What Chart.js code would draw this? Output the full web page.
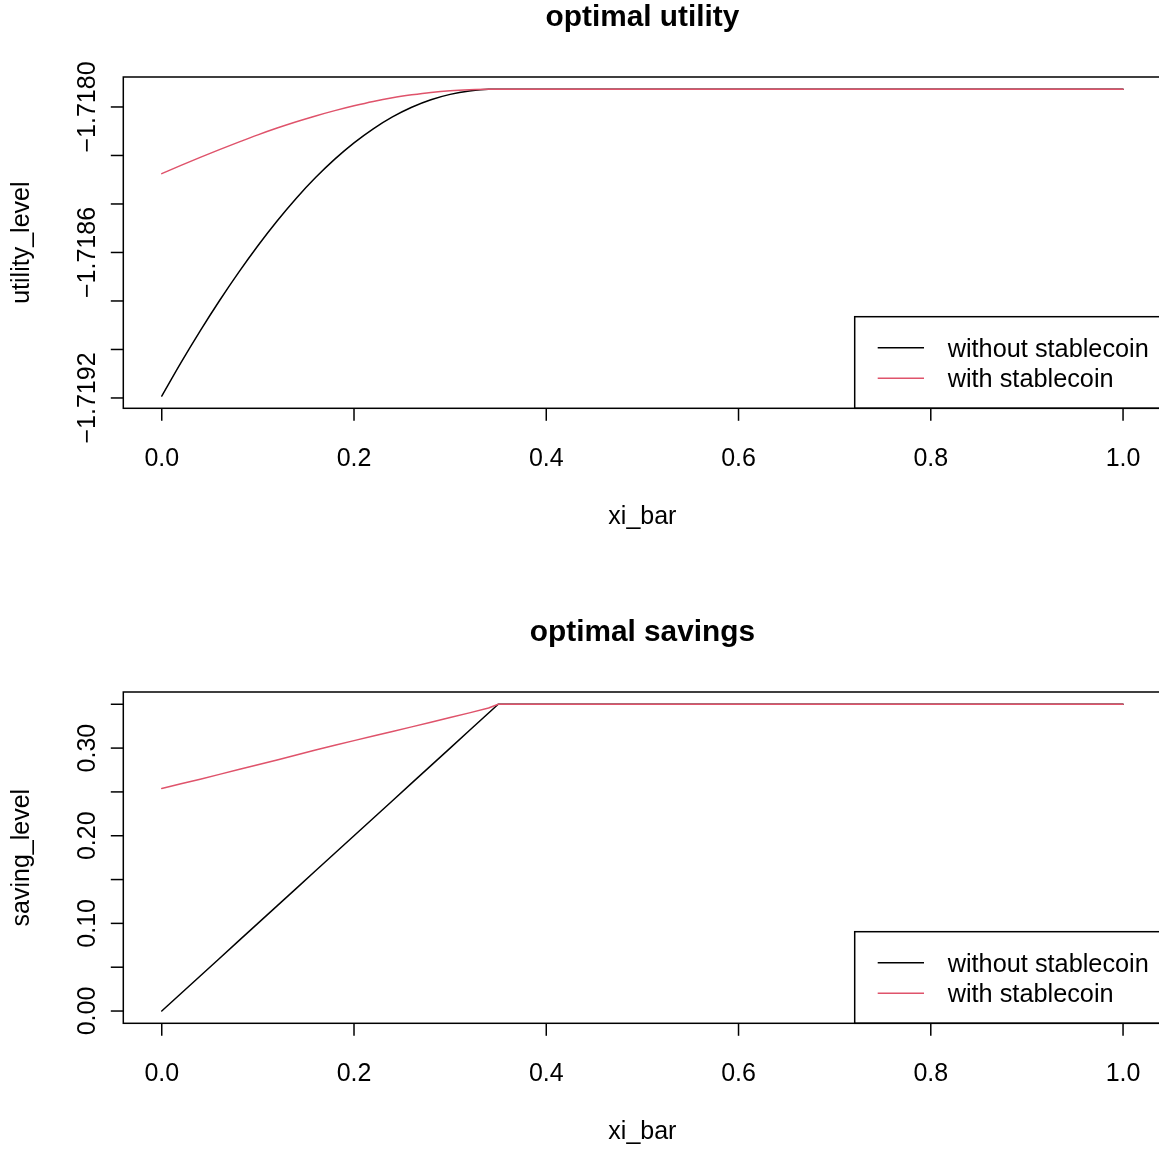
<!DOCTYPE html>
<html>
<head>
<meta charset="utf-8">
<script src="https://cdn.jsdelivr.net/npm/chart.js@4.4.1/dist/chart.umd.min.js"></script>
<style>
  html, body { margin: 0; padding: 0; background: #fff; overflow: hidden; }
  body { width: 1159px; height: 1152px; position: relative; }
  canvas { position: absolute; left: 0; }
  #utilityChart { top: 0; }
  #savingChart { top: 615px; }
</style>
</head>
<body>
<canvas id="utilityChart" width="1162" height="537"></canvas>
<canvas id="savingChart" width="1162" height="537"></canvas>
<script>
// xi_bar grid shared by both panels
const xiBar = [0, 0.02, 0.04, 0.06, 0.08, 0.10, 0.12, 0.14, 0.16, 0.18, 0.20, 0.22, 0.24, 0.26, 0.28, 0.30,
               0.32, 0.34, 0.35, 0.4, 0.5, 0.6, 0.7, 0.8, 0.9, 1.0];

// optimal utility
const utilityWithout = [-1.719192, -1.719054, -1.718923, -1.718799, -1.718682, -1.718572, -1.718470, -1.718376,
                        -1.718291, -1.718215, -1.718148, -1.718090, -1.718041, -1.718001, -1.717970, -1.717948,
                        -1.717934, -1.717927, -1.717927, -1.717927, -1.717927, -1.717927, -1.717927,
                        -1.717927, -1.717927, -1.717927];
const utilityWith = [-1.718275, -1.718241, -1.718208, -1.718176, -1.718145, -1.718115, -1.718087, -1.718061,
                     -1.718037, -1.718015, -1.717995, -1.717977, -1.717962, -1.717950, -1.717940, -1.717933,
                     -1.717929, -1.717927, -1.717927, -1.717927, -1.717927, -1.717927, -1.717927,
                     -1.717927, -1.717927, -1.717927];

// optimal savings
const savingWithout = [0, 0.02, 0.04, 0.06, 0.08, 0.10, 0.12, 0.14, 0.16, 0.18, 0.20, 0.22, 0.24, 0.26, 0.28,
                       0.30, 0.32, 0.34, 0.35, 0.35, 0.35, 0.35, 0.35, 0.35, 0.35, 0.35];
const savingWith = [0.254, 0.2592, 0.2645, 0.270, 0.2755, 0.281, 0.2865, 0.2922, 0.2978, 0.3032, 0.3085, 0.3138,
                    0.319, 0.3242, 0.3295, 0.3348, 0.3402, 0.3458, 0.35, 0.35, 0.35, 0.35, 0.35, 0.35, 0.35, 0.35];

// axis ticks
const xTicks = [0, 0.2, 0.4, 0.6, 0.8, 1.0];
const xTickLabels = ['0.0', '0.2', '0.4', '0.6', '0.8', '1.0'];
const utilityTicks = [-1.7192, -1.7190, -1.7188, -1.7186, -1.7184, -1.7182, -1.7180];
const utilityTickLabels = ['\u22121.7192', '', '', '\u22121.7186', '', '', '\u22121.7180'];
const savingTicks = [0, 0.05, 0.10, 0.15, 0.20, 0.25, 0.30, 0.35];
const savingTickLabels = ['0.00', '', '0.10', '', '0.20', '', '0.30', ''];

const legendLabels = ['without stablecoin', 'with stablecoin'];
const seriesColors = ['#000000', '#DF536B'];

const FONT = '"Liberation Sans", Arial, Helvetica, sans-serif';

// range stretched by 4% on each side, like base graphics
function paddedRange(...lists) {
  const all = [].concat(...lists);
  const lo = Math.min(...all), hi = Math.max(...all);
  const pad = (hi - lo) * 0.04;
  return { min: lo - pad, max: hi + pad };
}

// box, axes, titles and legend drawn on top of the datasets
const framePlugin = {
  id: 'baseFrame',
  afterDraw(chart, args, opts) {
    const { ctx, chartArea: a, scales: { x, y } } = chart;
    ctx.save();
    ctx.strokeStyle = '#000';
    ctx.fillStyle = '#000';
    ctx.lineWidth = 1.5;
    ctx.lineCap = 'butt';

    ctx.font = `25px ${FONT}`;
    ctx.textAlign = 'center';
    ctx.textBaseline = 'alphabetic';

    xTicks.forEach((t, i) => {
      const px = x.getPixelForValue(t);
      ctx.beginPath();
      ctx.moveTo(px, a.bottom);
      ctx.lineTo(px, a.bottom + 12.5);
      ctx.stroke();
      ctx.fillText(xTickLabels[i], px, a.bottom + 57.5);
    });

    opts.ticks.forEach((t, i) => {
      const py = y.getPixelForValue(t);
      ctx.beginPath();
      ctx.moveTo(a.left - 12.5, py);
      ctx.lineTo(a.left, py);
      ctx.stroke();
      if (opts.tickLabels[i]) {
        ctx.save();
        ctx.translate(a.left - 28.5, py);
        ctx.rotate(-Math.PI / 2);
        ctx.fillText(opts.tickLabels[i], 0, 0);
        ctx.restore();
      }
    });

    const midX = (a.left + a.right) / 2;
    ctx.fillText('xi_bar', midX, a.bottom + 116);
    ctx.save();
    ctx.translate(29, (a.top + a.bottom) / 2);
    ctx.rotate(-Math.PI / 2);
    ctx.fillText(opts.yTitle, 0, 0);
    ctx.restore();

    // legend, bottom right
    const lx = a.right - 306.8, ly = a.bottom - 91.6;
    ctx.fillStyle = '#fff';
    ctx.fillRect(lx, ly, a.right - lx, a.bottom - ly);
    ctx.strokeRect(lx, ly, a.right - lx, a.bottom - ly);
    ctx.textAlign = 'left';
    ctx.font = `25.3px ${FONT}`;
    legendLabels.forEach((label, i) => {
      const rowY = ly + 31 + i * 30.6;
      ctx.strokeStyle = seriesColors[i];
      ctx.beginPath();
      ctx.moveTo(lx + 23, rowY);
      ctx.lineTo(lx + 69.3, rowY);
      ctx.stroke();
      ctx.fillStyle = '#000';
      ctx.fillText(label, lx + 93, rowY + 8.9);
    });

    ctx.strokeStyle = '#000';
    ctx.strokeRect(a.left, a.top, a.right - a.left, a.bottom - a.top);

    ctx.fillStyle = '#000';
    ctx.textAlign = 'center';
    ctx.font = `bold 29.8px ${FONT}`;
    ctx.fillText(opts.title, midX, 25.5);
    ctx.restore();
  }
};

function series(xs, ys, color, order, smooth) {
  return {
    data: xs.map((v, i) => ({ x: v, y: ys[i] })),
    borderColor: color,
    borderWidth: 1.5,
    pointRadius: 0,
    borderJoinStyle: 'round',
    borderCapStyle: 'round',
    cubicInterpolationMode: smooth ? 'monotone' : 'default',
    tension: 0,
    fill: false,
    order: order
  };
}

function panel(id, without, withCoin, ticks, tickLabels, title, yTitle, smooth) {
  const yRange = paddedRange(without, withCoin);
  const xRange = paddedRange(xiBar);
  new Chart(document.getElementById(id), {
    type: 'line',
    data: {
      datasets: [
        series(xiBar, without, seriesColors[0], 2, smooth),
        series(xiBar, withCoin, seriesColors[1], 1, smooth)
      ]
    },
    options: {
      responsive: false,
      animation: false,
      events: [],
      layout: { autoPadding: false, padding: { left: 123.3, top: 77, right: 0.5, bottom: 128.7 } },
      scales: {
        x: { type: 'linear', display: false, min: xRange.min, max: xRange.max },
        y: { type: 'linear', display: false, min: yRange.min, max: yRange.max }
      },
      plugins: {
        legend: { display: false },
        tooltip: { enabled: false },
        baseFrame: { ticks, tickLabels, title, yTitle }
      }
    },
    plugins: [framePlugin]
  });
}

panel('utilityChart', utilityWithout, utilityWith, utilityTicks, utilityTickLabels,
      'optimal utility', 'utility_level', true);
panel('savingChart', savingWithout, savingWith, savingTicks, savingTickLabels,
      'optimal savings', 'saving_level', false);
</script>
</body>
</html>
